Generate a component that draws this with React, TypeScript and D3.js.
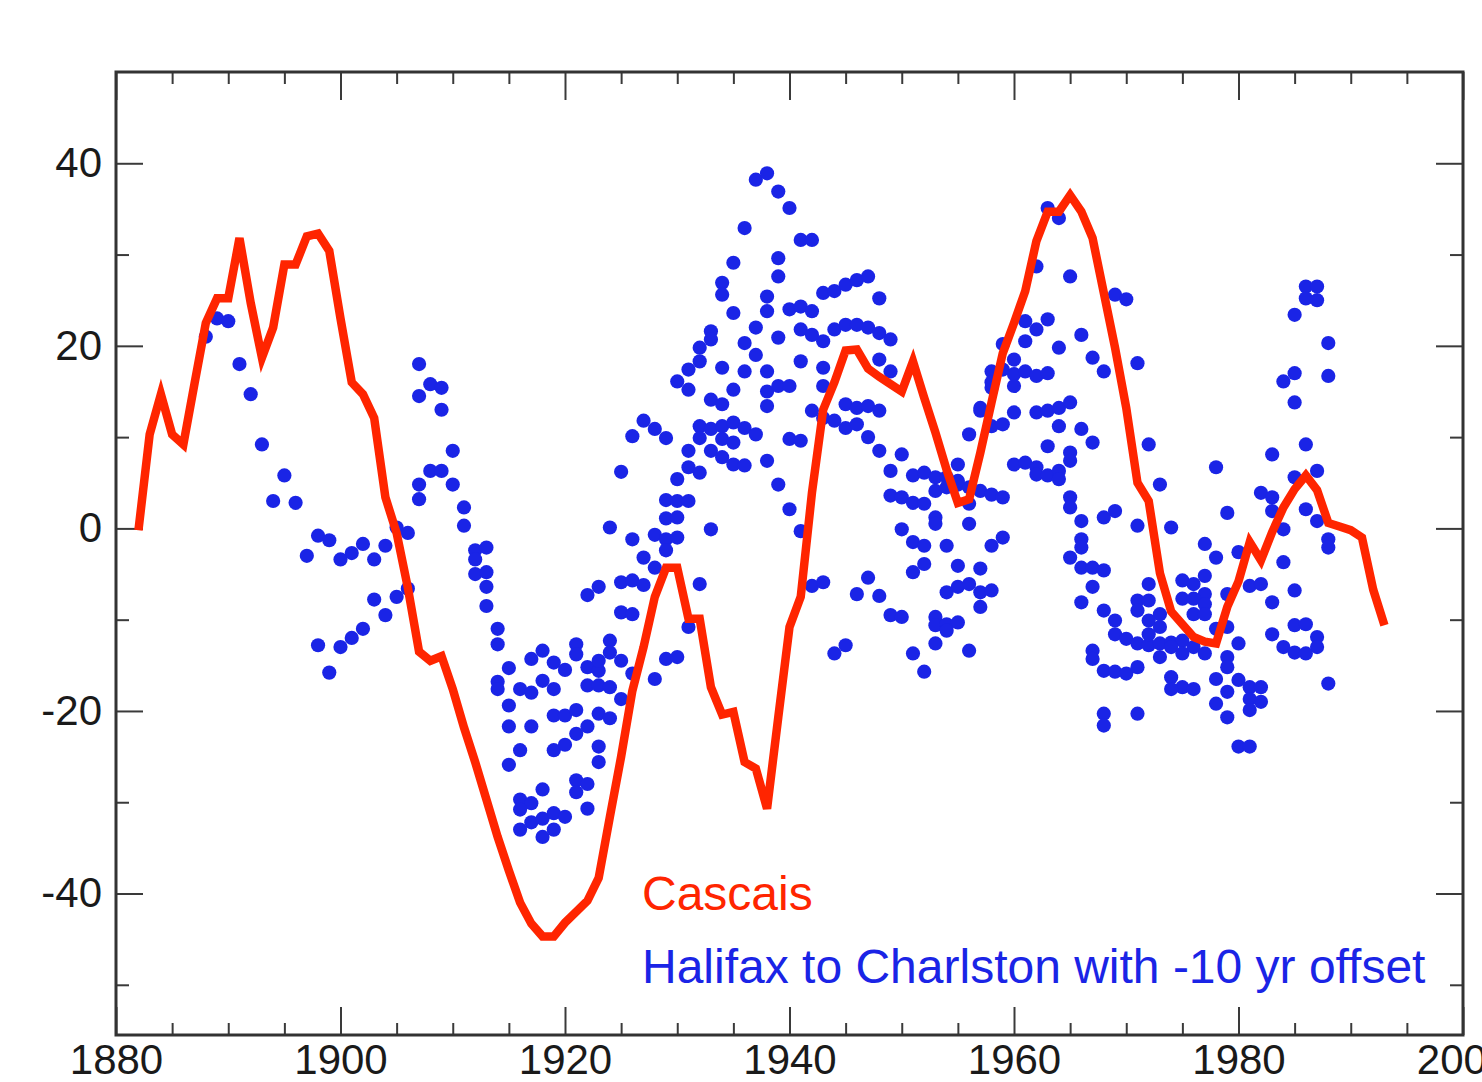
import { useEffect, useRef } from "react"
import * as d3 from "d3"

// Cascais annual series (year, value)
const cascaisEarly: [number, number][] = [
  [1882, -0.2], [1883, 10.3], [1884, 14.7], [1885, 10.3], [1886, 9.2], [1887, 15.9], [1888, 22.5], [1889, 25.2],
  [1890, 25.2], [1891, 31.8], [1892, 24.7], [1893, 18.7], [1894, 22], [1895, 28.9], [1896, 28.9], [1897, 32],
  [1898, 32.3], [1899, 30.4], [1900, 23], [1901, 16], [1902, 14.7], [1903, 12.1], [1904, 3.4], [1905, -0.5],
  [1906, -6.5], [1907, -13.5], [1908, -14.5], [1909, -14], [1910, -17.6], [1911, -21.8], [1912, -25.6],
  [1913, -29.7], [1914, -33.8], [1915, -37.5], [1916, -41], [1917, -43.3], [1918, -44.7], [1919, -44.7],
  [1920, -43.2], [1921, -42], [1922, -40.8], [1923, -38.3], [1924, -31.6], [1925, -25], [1926, -17.8],
  [1927, -13], [1928, -7.5], [1929, -4.3], [1930, -4.3], [1931, -9.9], [1932, -9.9], [1933, -17.4],
  [1934, -20.4], [1935, -20.1], [1936, -25.6], [1937, -26.3],
]
const cascaisLate: [number, number][] = [
  [1938, -30.7], [1939, -20.7], [1940, -10.8], [1941, -7.5], [1942, 3.9], [1943, 13], [1944, 16], [1945, 19.5],
  [1946, 19.6], [1947, 17.5], [1948, 16.6], [1949, 15.8], [1950, 15], [1951, 18.3], [1952, 14.3], [1953, 10.5],
  [1954, 6.4], [1955, 2.8], [1956, 3.2], [1957, 8.3], [1958, 13.8], [1959, 19.2], [1960, 22.5], [1961, 26],
  [1962, 31.5], [1963, 34.7], [1964, 34.7], [1965, 36.5], [1966, 34.7], [1967, 31.8], [1968, 25.8], [1969, 19.8],
  [1970, 13.2], [1971, 5], [1972, 3], [1973, -4.9], [1974, -9.1], [1975, -10.5], [1976, -11.9], [1977, -12.4],
  [1978, -12.6], [1979, -8.6], [1980, -5.8], [1981, -1.5], [1982, -3.5], [1983, -0.4], [1984, 2.3], [1985, 4.3],
  [1986, 5.8], [1987, 4.2], [1988, 0.6], [1989, 0.2], [1990, -0.2], [1991, -1], [1992, -6.7], [1993, -10.6],
]

// Halifax to Charleston stations, shifted -10 yr (year, value)
const halifax1880s: [number, number][] = [[1888, 21], [1889, 23], [1890, 22.7]]
const halifax1890s: [number, number][] = [
  [1891, 18], [1892, 14.7], [1893, 9.2], [1894, 3], [1895, 5.8], [1896, 2.8], [1897, -3], [1898, -0.8],
  [1899, -1.3], [1898, -12.8], [1899, -15.8],
]
const halifax1900s: [number, number][] = [
  [1900, -3.4], [1901, -2.7], [1902, -1.7], [1903, -3.4], [1904, -1.9], [1900, -13], [1901, -12], [1902, -11],
  [1903, -7.8], [1904, -9.5], [1905, -7.5], [1906, -6.6], [1905, 0.1], [1906, -0.5], [1907, 18], [1907, 14.5],
  [1908, 15.8], [1909, 15.4], [1909, 13], [1908, 6.3], [1909, 6.3], [1907, 4.8], [1907, 3.2],
]
const halifax1910s: [number, number][] = [
  [1910, 8.5], [1910, 4.8], [1911, 2.3], [1911, 0.3], [1912, -2.4], [1913, -2.1], [1912, -3.4], [1912, -5],
  [1913, -4.8], [1913, -6.4], [1913, -8.5], [1914, -11], [1914, -12.7], [1915, -15.3], [1914, -16.8],
  [1914, -17.6], [1915, -19.4], [1915, -21.7], [1916, -24.3], [1915, -25.9], [1916, -17.6], [1917, -18],
  [1917, -14.3], [1918, -13.4], [1917, -21.7], [1918, -16.7], [1919, -14.7], [1919, -17.6], [1919, -20.5],
  [1919, -24.3], [1918, -28.6], [1916, -29.7], [1917, -30.1], [1916, -30.8], [1916, -33], [1917, -32.2],
  [1918, -31.8], [1919, -31.2], [1918, -33.8], [1919, -33],
]
const halifax1920s: [number, number][] = [
  [1920, -15.5], [1921, -12.7], [1921, -13.8], [1920, -20.5], [1921, -19.9], [1920, -23.7], [1921, -22.5],
  [1922, -21.7], [1923, -23.9], [1923, -25.6], [1923, -20.3], [1924, -20.8], [1922, -15.2], [1923, -15.6],
  [1922, -17.2], [1923, -17.2], [1924, -17.4], [1924, -12.3], [1924, -13.6], [1923, -14.5], [1925, -14.5],
  [1925, -18.7], [1926, -15.9], [1928, -16.5], [1920, -31.6], [1921, -27.6], [1922, -28], [1921, -28.9],
  [1922, -30.7], [1922, -7.3], [1923, -6.4], [1924, 0.1], [1925, -5.9], [1926, -5.7], [1927, -6.2],
  [1925, -9.2], [1926, -9.4], [1926, -1.2], [1927, -3.2], [1928, -0.7], [1929, -1.2], [1929, -2.4],
  [1928, -4.3], [1929, 1.1], [1930, 1.2], [1930, -1], [1929, 3.1], [1930, 3], [1929, -14.3], [1930, -14.1],
  [1927, 11.8], [1928, 10.9], [1929, 9.9], [1926, 10.1], [1925, 6.2], [1930, 5.4], [1930, 16.1],
]
const halifax1930s: [number, number][] = [
  [1931, 3], [1933, -0.1], [1932, -6.1], [1931, -10.8], [1932, 18.3], [1931, 17.4], [1934, 17.6], [1936, 17.2],
  [1931, 15.2], [1935, 15.2], [1933, 14.1], [1934, 13.6], [1932, 11.2], [1933, 10.9], [1934, 11.2], [1935, 11.6],
  [1936, 11], [1937, 10.3], [1932, 9.9], [1934, 9.8], [1935, 9.4], [1931, 8.5], [1933, 8.5], [1934, 7.8],
  [1935, 7], [1936, 6.9], [1931, 6.7], [1932, 6.1], [1937, 38.2], [1938, 38.9], [1939, 36.9], [1936, 32.9],
  [1935, 29.1], [1939, 29.6], [1939, 27.6], [1934, 26.9], [1934, 25.6], [1935, 23.6], [1938, 25.4], [1938, 23.8],
  [1937, 22], [1933, 21.6], [1939, 20.9], [1932, 19.8], [1933, 20.7], [1936, 20.3], [1937, 19], [1938, 17.2],
  [1938, 15], [1939, 15.6], [1938, 13.4], [1939, 4.8], [1938, 7.4],
]
const halifax1940s: [number, number][] = [
  [1940, 35.1], [1941, 31.6], [1942, 31.6], [1943, 25.8], [1944, 26], [1945, 26.7], [1946, 27.2], [1947, 27.6],
  [1948, 25.2], [1940, 24], [1941, 24.3], [1942, 23.8], [1941, 21.8], [1942, 21.2], [1943, 20.5], [1944, 21.8],
  [1945, 22.3], [1946, 22.3], [1947, 22], [1948, 21.4], [1949, 20.7], [1941, 18.3], [1943, 17.6], [1948, 18.5],
  [1949, 17.2], [1940, 15.6], [1943, 15.6], [1942, 12.9], [1943, 12.1], [1944, 11.8], [1945, 13.6], [1946, 13.2],
  [1947, 13.4], [1948, 12.9], [1945, 11], [1946, 11.4], [1947, 10], [1948, 8.5], [1949, 6.3], [1940, 9.8],
  [1941, 9.6], [1940, 2.1], [1941, -0.3], [1942, -6.3], [1943, -5.9], [1947, -5.4], [1946, -7.2], [1948, -7.4],
  [1949, -9.5], [1944, -13.7], [1945, -12.8], [1949, 3.6],
]
const halifax1950s: [number, number][] = [
  [1950, -9.7], [1950, 8.1], [1950, 3.4], [1950, -0.1], [1951, 5.8], [1952, 6.1], [1953, 5.6], [1954, 5.6],
  [1951, 2.8], [1952, 2.7], [1953, 4.1], [1954, 4.5], [1955, 4.8], [1956, 4.5], [1957, 4.1], [1958, 3.7],
  [1956, 2.7], [1953, 1.2], [1953, 0.5], [1956, 0.5], [1951, -1.5], [1952, -1.9], [1954, -1.9], [1958, -1.9],
  [1956, 10.3], [1957, 12.9], [1958, 15.4], [1958, 17.2], [1959, 20.2], [1951, -13.7], [1952, -15.7],
  [1953, -12.6], [1953, -9.7], [1953, -10.6], [1954, -10.5], [1955, -10.3], [1954, -11.2], [1956, -13.4],
  [1951, -4.8], [1952, -3.9], [1955, -4.1], [1957, -4.4], [1959, -1], [1954, -7], [1955, -6.4], [1956, -6.1],
  [1957, -7], [1958, -6.8], [1957, -8.6], [1958, 16], [1959, 17.4], [1957, 13.2], [1958, 11.2], [1959, 11.4],
  [1955, 7], [1955, 5.2], [1959, 3.4],
]
const halifax1960s: [number, number][] = [
  [1963, 35.1], [1964, 34], [1962, 28.7], [1965, 27.6], [1969, 25.6], [1961, 22.7], [1962, 21.8], [1963, 22.9],
  [1961, 20.5], [1966, 21.2], [1964, 19.8], [1967, 18.7], [1968, 17.2], [1960, 18.5], [1960, 16.9], [1961, 17.2],
  [1962, 16.7], [1963, 17], [1960, 15.6], [1960, 12.7], [1962, 12.7], [1963, 12.9], [1964, 13.2], [1965, 13.8],
  [1964, 11.2], [1966, 10.9], [1967, 9.4], [1963, 9], [1965, 8.3], [1965, 7.4], [1960, 7], [1961, 7.2],
  [1962, 6.7], [1962, 5.9], [1963, 5.8], [1964, 6.3], [1964, 5.4], [1965, 3.4], [1965, 2.3], [1966, 0.8],
  [1968, 1.2], [1969, 1.9], [1966, -1.2], [1966, -2.1], [1965, -3.2], [1966, -4.3], [1967, -4.3], [1968, -4.6],
  [1967, -6.4], [1966, -8.1], [1968, -9], [1969, -10.1], [1969, -11.6], [1967, -13.4], [1967, -14.3],
  [1968, -15.6], [1969, -15.7], [1968, -20.3], [1968, -21.6],
]
const halifax1970s: [number, number][] = [
  [1970, 25.1], [1970, -12.1], [1971, -12.6], [1972, -12.8], [1973, -12.6], [1974, -12.5], [1975, -12.3],
  [1970, -15.9], [1971, -15.2], [1971, -20.3], [1971, 18.1], [1972, 9.2], [1973, 4.8], [1971, 0.3], [1974, 0.1],
  [1971, -7.9], [1971, -9], [1972, -6.1], [1972, -7.9], [1973, -9.4], [1972, -10.1], [1973, -10.8], [1972, -11.6],
  [1974, -13], [1973, -14.1], [1975, -13.7], [1976, -13], [1977, -13.7], [1975, -5.7], [1976, -6.1], [1977, -5.2],
  [1977, -7.2], [1975, -7.7], [1976, -7.7], [1977, -8.3], [1976, -9.4], [1977, -9.4], [1974, -16.3],
  [1975, -17.4], [1974, -17.6], [1976, -17.6], [1978, -11], [1979, -10.8], [1979, -7.2], [1978, 6.7], [1979, 1.7],
  [1977, -1.7], [1978, -3.2], [1978, -16.5], [1979, -14.1], [1979, -15.2], [1979, -17.9], [1978, -19.2],
  [1979, -20.7],
]
const halifax1980s: [number, number][] = [
  [1980, -2.6], [1980, -12.6], [1980, -16.6], [1980, -23.9], [1981, -23.9], [1981, -17.4], [1982, -17.4],
  [1981, -18.7], [1982, -19], [1981, -19.9], [1981, -6.3], [1982, -6.1], [1983, -8.1], [1984, -3.7], [1985, -6.8],
  [1983, -11.6], [1984, -13], [1985, -10.6], [1986, -10.5], [1987, -11.9], [1987, -13], [1985, -13.6],
  [1986, -13.7], [1988, -17], [1983, 8.1], [1982, 3.9], [1983, 3.4], [1983, 1.9], [1985, 5.6], [1986, 2.1],
  [1986, 9.2], [1987, 6.3], [1987, 0.8], [1988, -1.2], [1988, -2.1], [1985, 23.4], [1986, 26.5], [1987, 26.5],
  [1986, 25.2], [1987, 25], [1988, 20.3], [1988, 16.7], [1984, 16.1], [1985, 17], [1985, 13.8], [1984, -0.1],
]

// Ticks
const yMajorTicks = [-40, -20, 0, 20, 40]
const yMinorTicks = [-50, -30, -10, 10, 30]
const xMajorTicks = [1880, 1900, 1920, 1940, 1960, 1980, 2000]
const xMinorTicks = [
  1885, 1890, 1895, 1905, 1910, 1915, 1925, 1930, 1935, 1945, 1950, 1955, 1965, 1970, 1975, 1985, 1990, 1995,
]

const labels = ["Cascais", "Halifax to Charlston with -10 yr offset"]

const width = 1482
const height = 1082
const font = "'Liberation Sans', Arial, Helvetica, sans-serif"
const red = "#ff2500"
const blue = "#1a24e6"

export default function App() {
  const svgRef = useRef<SVGSVGElement>(null)

  useEffect(() => {
    if (!svgRef.current) return
    document.body.style.margin = "0"

    const svg = d3.select(svgRef.current)
    svg.selectAll("*").remove()

    svg.append("rect").attr("width", width).attr("height", height).attr("fill", "#fff")

    const x = d3.scaleLinear().domain([1880, 2000]).range([116, 1463])
    const y = d3.scaleLinear().domain([-55.5, 50]).range([1035, 72])
    const [x0, x1] = x.range()
    const [y0, y1] = y.range()

    const cascais = [...cascaisEarly, ...cascaisLate]
    const stations = [
      ...halifax1880s, ...halifax1890s, ...halifax1900s, ...halifax1910s, ...halifax1920s,
      ...halifax1930s, ...halifax1940s, ...halifax1950s, ...halifax1960s, ...halifax1970s, ...halifax1980s,
    ]

    // axes: ticks inward on all four sides
    const styleAxis = (g: d3.Selection<SVGGElement, unknown, null, undefined>) => {
      g.select(".domain").remove()
      g.selectAll("line").attr("stroke", "#3a3a3a").attr("stroke-width", 2)
      g.attr("font-size", 42).attr("font-family", font)
      g.selectAll("text").attr("fill", "#1a1a1a")
    }
    const fmt = (d: d3.NumberValue) => String(d)

    svg.append("g").attr("transform", `translate(${x0},0)`)
      .call(d3.axisLeft(y).tickValues(yMajorTicks).tickSize(-27).tickPadding(14).tickFormat(fmt))
      .call(styleAxis)
    svg.append("g").attr("transform", `translate(${x0},0)`)
      .call(d3.axisLeft(y).tickValues(yMinorTicks).tickSize(-13).tickFormat(() => ""))
      .call(styleAxis)
    svg.append("g").attr("transform", `translate(${x1},0)`)
      .call(d3.axisRight(y).tickValues(yMajorTicks).tickSize(-27).tickFormat(() => ""))
      .call(styleAxis)
    svg.append("g").attr("transform", `translate(${x1},0)`)
      .call(d3.axisRight(y).tickValues(yMinorTicks).tickSize(-13).tickFormat(() => ""))
      .call(styleAxis)

    svg.append("g").attr("transform", `translate(0,${y0})`)
      .call(d3.axisBottom(x).tickValues(xMajorTicks).tickSize(-28).tickPadding(9).tickFormat(fmt))
      .call(styleAxis)
    svg.append("g").attr("transform", `translate(0,${y0})`)
      .call(d3.axisBottom(x).tickValues(xMinorTicks).tickSize(-12).tickFormat(() => ""))
      .call(styleAxis)
    svg.append("g").attr("transform", `translate(0,${y1})`)
      .call(d3.axisTop(x).tickValues(xMajorTicks).tickSize(-28).tickFormat(() => ""))
      .call(styleAxis)
    svg.append("g").attr("transform", `translate(0,${y1})`)
      .call(d3.axisTop(x).tickValues(xMinorTicks).tickSize(-12).tickFormat(() => ""))
      .call(styleAxis)

    // frame
    svg.append("rect")
      .attr("x", x0).attr("y", y1)
      .attr("width", x1 - x0).attr("height", y0 - y1)
      .attr("fill", "none").attr("stroke", "#333").attr("stroke-width", 3)

    // station dots
    svg.append("g")
      .selectAll("circle")
      .data(stations)
      .join("circle")
      .attr("cx", (d) => x(d[0]))
      .attr("cy", (d) => y(d[1]))
      .attr("r", 7.1)
      .attr("fill", blue)

    // Cascais line
    const line = d3.line<[number, number]>().x((d) => x(d[0])).y((d) => y(d[1]))
    svg.append("path")
      .datum(cascais)
      .attr("d", line)
      .attr("fill", "none")
      .attr("stroke", red)
      .attr("stroke-width", 8.5)
      .attr("stroke-linejoin", "miter")

    // legend text
    svg.append("text")
      .attr("x", 642).attr("y", 910)
      .attr("font-family", font).attr("font-size", 48)
      .attr("fill", red)
      .text(labels[0])
    svg.append("text")
      .attr("x", 642).attr("y", 983)
      .attr("font-family", font).attr("font-size", 48)
      .attr("fill", blue)
      .text(labels[1])
  }, [])

  return (
    <svg
      ref={svgRef}
      width={width}
      height={height}
      style={{ display: "block", position: "absolute", left: 0, top: 0 }}
    />
  )
}
